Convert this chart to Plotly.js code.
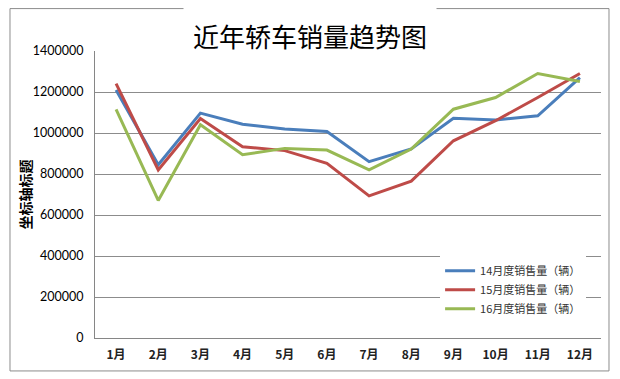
<!DOCTYPE html>
<html>
<head>
<meta charset="utf-8">
<script src="https://cdn.plot.ly/plotly-3.0.1.min.js"></script>
<style>
html,body{margin:0;padding:0;background:#fff;}
#chart{width:620px;height:379px;}
</style>
</head>
<body>
<div id="chart"></div>
<script>
const months = ["1月","2月","3月","4月","5月","6月","7月","8月","9月","10月","11月","12月"];
const seriesNames = ["14月度销售量（辆）","15月度销售量（辆）","16月度销售量（辆）"];
const sales14 = [1210000, 845000, 1097000, 1043000, 1019000, 1007000, 860000, 922000, 1072000, 1063000, 1084000, 1270000];
const sales15 = [1241000, 820000, 1071000, 933000, 914000, 852000, 693000, 765000, 962000, 1060000, 1173000, 1290000];
const sales16 = [1115000, 671000, 1040000, 894000, 925000, 917000, 820000, 922000, 1116000, 1173000, 1290000, 1251000];
const yTicks = [0, 200000, 400000, 600000, 800000, 1000000, 1200000, 1400000];
const titleText = "近年轿车销量趋势图";
const yTitleText = "坐标轴标题";

const colors = ["#4A7EBB", "#BE4B48", "#98B954"];
const allSeries = [sales14, sales15, sales16];

const traces = allSeries.map((ys, i) => ({
  type: "scatter",
  mode: "lines",
  x: months,
  y: ys,
  name: seriesNames[i],
  line: {color: colors[i], width: 3}
}));

const FONT = '"Noto Sans CJK SC", "Noto Sans", sans-serif';

const layout = {
  width: 620,
  height: 379,
  margin: {l: 95, r: 19, t: 50.5, b: 41, pad: 0},
  paper_bgcolor: "#fff",
  plot_bgcolor: "#fff",
  font: {family: FONT, color: "#000"},
  showlegend: true,
  legend: {
    x: 0.682, xanchor: "left",
    y: 0.285, yanchor: "top",
    bgcolor: "#fff",
    borderwidth: 0,
    font: {family: FONT, size: 11, color: "#333"},
    itemwidth: 30,
    tracegroupgap: 0
  },
  xaxis: {
    type: "category",
    range: [-0.5, months.length - 0.5],
    showgrid: false,
    showline: true,
    linecolor: "#868686",
    linewidth: 1,
    ticks: "",
    ticklabelstandoff: 6,
    tickfont: {family: FONT, size: 12, color: "#222", weight: "bold"},
    fixedrange: true
  },
  yaxis: {
    range: [0, 1400000],
    tickvals: yTicks,
    ticktext: yTicks.map(v => String(v)),
    showgrid: true,
    gridcolor: "#8C8C8C",
    gridwidth: 1,
    showline: true,
    linecolor: "#868686",
    linewidth: 1,
    zeroline: false,
    ticks: "",
    ticklabelstandoff: 8,
    tickfont: {family: '"Lato", "Open Sans", sans-serif', size: 12.5, color: "#000"},
    fixedrange: true
  },
  shapes: [{
    type: "rect", xref: "paper", yref: "paper",
    x0: -0.168, x1: 1.0158, y0: -0.1148, y1: 1.1478,
    line: {color: "#8C8C8C", width: 1},
    fillcolor: "rgba(0,0,0,0)",
    layer: "below"
  }],
  annotations: [
    {
      text: titleText,
      xref: "paper", yref: "paper",
      x: 0.425, y: 1.054,
      xanchor: "center", yanchor: "middle",
      showarrow: false,
      bgcolor: "#fff",
      borderpad: 9,
      font: {family: FONT, size: 26, color: "#000"}
    },
    {
      text: yTitleText,
      xref: "paper", yref: "paper",
      x: -0.1403, y: 0.5,
      xanchor: "center", yanchor: "middle",
      textangle: -90,
      showarrow: false,
      font: {family: FONT, size: 14, color: "#000", weight: "bold"}
    }
  ]
};

Plotly.newPlot("chart", traces, layout, {displayModeBar: false, staticPlot: true});
</script>
</body>
</html>
